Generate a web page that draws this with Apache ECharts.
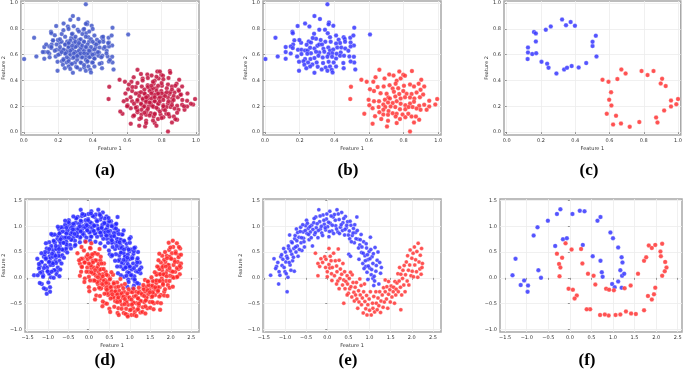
<!DOCTYPE html>
<html>
<head>
<meta charset="utf-8">
<script src="https://cdn.jsdelivr.net/npm/echarts@6/dist/echarts.min.js"></script>
<style>
  html, body { margin: 0; padding: 0; background: #fff; }
  #chart { width: 685px; height: 376px; }
</style>
</head>
<body>
<div id="chart"></div>
<script>
// tick labels
const unitTicks = [0, 0.2, 0.4, 0.6, 0.8, 1.0];
const moonXTicks = [-1.5, -1.0, -0.5, 0, 0.5, 1.0, 1.5, 2.0, 2.5];
const moonYTicks = [-1.0, -0.5, 0, 0.5, 1.0, 1.5];
const captions = ['(a)', '(b)', '(c)', '(d)', '(e)', '(f)'];

// (b) blobs
const bBlue = [[0.36,0.99],[0.285,0.899],[0.317,0.876],[0.231,0.842],[0.256,0.819],[0.188,0.822],[0.158,0.778],[0.16,0.767],[0.06,0.731],[0.369,0.85],[0.367,0.835],[0.394,0.824],[0.313,0.793],[0.346,0.793],[0.283,0.762],[0.362,0.767],[0.375,0.736],[0.41,0.749],[0.454,0.736],[0.46,0.721],[0.425,0.716],[0.492,0.731],[0.515,0.809],[0.51,0.749],[0.606,0.757],[0.513,0.672],[0.494,0.695],[0.494,0.664],[0.462,0.7],[0.433,0.69],[0.41,0.687],[0.379,0.7],[0.348,0.7],[0.321,0.713],[0.294,0.724],[0.275,0.729],[0.252,0.703],[0.265,0.695],[0.24,0.677],[0.208,0.693],[0.198,0.713],[0.169,0.711],[0.162,0.68],[0.148,0.664],[0.119,0.659],[0.119,0.62],[0.148,0.61],[0.16,0.651],[0.19,0.638],[0.21,0.638],[0.231,0.633],[0.246,0.633],[0.26,0.654],[0.285,0.649],[0.302,0.669],[0.313,0.68],[0.329,0.68],[0.337,0.646],[0.365,0.656],[0.375,0.633],[0.394,0.641],[0.417,0.656],[0.44,0.656],[0.463,0.649],[0.481,0.63],[0.437,0.618],[0.413,0.607],[0.388,0.612],[0.367,0.605],[0.342,0.623],[0.313,0.618],[0.294,0.623],[0.265,0.612],[0.244,0.607],[0.21,0.605],[0.185,0.587],[0.119,0.568],[0.073,0.587],[0.002,0.566],[0.231,0.566],[0.262,0.566],[0.285,0.574],[0.308,0.592],[0.333,0.579],[0.36,0.584],[0.387,0.584],[0.41,0.571],[0.433,0.592],[0.456,0.592],[0.487,0.587],[0.513,0.584],[0.515,0.54],[0.494,0.548],[0.452,0.535],[0.396,0.54],[0.367,0.545],[0.335,0.535],[0.298,0.54],[0.273,0.525],[0.248,0.54],[0.221,0.55],[0.196,0.545],[0.227,0.522],[0.26,0.509],[0.304,0.506],[0.35,0.501],[0.375,0.509],[0.41,0.509],[0.454,0.496],[0.521,0.486],[0.196,0.475],[0.238,0.496],[0.285,0.46],[0.327,0.486],[0.36,0.475],[0.385,0.483],[0.39,0.463]];
const bRed = [[0.66,0.483],[0.717,0.447],[0.775,0.47],[0.798,0.444],[0.848,0.473],[0.808,0.437],[0.742,0.439],[0.638,0.426],[0.556,0.406],[0.587,0.39],[0.625,0.39],[0.69,0.416],[0.76,0.398],[0.783,0.416],[0.754,0.375],[0.719,0.364],[0.685,0.354],[0.65,0.349],[0.606,0.333],[0.629,0.318],[0.667,0.302],[0.702,0.297],[0.737,0.339],[0.769,0.341],[0.802,0.359],[0.837,0.37],[0.86,0.354],[0.887,0.375],[0.902,0.406],[0.919,0.354],[0.898,0.328],[0.875,0.307],[0.846,0.295],[0.817,0.297],[0.798,0.318],[0.775,0.295],[0.744,0.313],[0.712,0.269],[0.692,0.251],[0.721,0.261],[0.752,0.276],[0.783,0.261],[0.808,0.271],[0.837,0.269],[0.862,0.261],[0.894,0.271],[0.913,0.292],[0.948,0.243],[0.994,0.256],[0.983,0.214],[0.948,0.199],[0.919,0.212],[0.89,0.204],[0.86,0.235],[0.837,0.222],[0.81,0.209],[0.783,0.22],[0.76,0.24],[0.737,0.225],[0.71,0.23],[0.683,0.214],[0.658,0.24],[0.629,0.24],[0.598,0.251],[0.602,0.209],[0.621,0.186],[0.656,0.194],[0.694,0.194],[0.725,0.199],[0.752,0.194],[0.779,0.178],[0.81,0.178],[0.829,0.194],[0.852,0.194],[0.875,0.183],[0.898,0.173],[0.933,0.173],[0.713,0.163],[0.683,0.173],[0.66,0.155],[0.635,0.124],[0.683,0.137],[0.71,0.134],[0.737,0.147],[0.76,0.142],[0.794,0.137],[0.827,0.142],[0.846,0.121],[0.871,0.121],[0.89,0.096],[0.86,0.075],[0.81,0.116],[0.779,0.101],[0.754,0.121],[0.71,0.088],[0.671,0.101],[0.621,0.065],[0.573,0.142],[0.492,0.256],[0.496,0.351],[0.704,0.044],[0.837,0.005],[0.76,0.07]];

// (a) extra points on top of (b)
const aBlueExtra = [[0.22,0.70],[0.24,0.68],[0.26,0.66],[0.28,0.64],[0.30,0.62],[0.32,0.60],[0.34,0.58],[0.27,0.71],[0.29,0.69],[0.31,0.67],[0.33,0.65],[0.35,0.63],[0.37,0.61],[0.25,0.62],[0.27,0.60],[0.29,0.58],[0.31,0.56],[0.23,0.64],[0.21,0.66],[0.19,0.68],[0.33,0.72],[0.35,0.70],[0.37,0.68],[0.39,0.66],[0.41,0.64],[0.30,0.74],[0.28,0.76],[0.32,0.78],[0.34,0.76],[0.36,0.74],[0.24,0.74],[0.22,0.76],[0.20,0.60],[0.18,0.63],[0.16,0.66],[0.26,0.55],[0.28,0.53],[0.33,0.54],[0.36,0.56],[0.38,0.58],[0.40,0.60],[0.42,0.68],[0.44,0.70],[0.43,0.62],[0.45,0.58],[0.39,0.72],[0.38,0.78],[0.35,0.80],[0.26,0.80],[0.29,0.82],[0.21,0.72],[0.17,0.71],[0.14,0.62],[0.13,0.68],[0.25,0.58],[0.23,0.56],[0.35,0.52],[0.31,0.50],[0.27,0.49],[0.40,0.54],[0.47,0.66],[0.48,0.61],[0.46,0.74],[0.49,0.69],[0.30,0.66],[0.32,0.63],[0.34,0.67],[0.28,0.67],[0.26,0.69],[0.30,0.70],[0.32,0.69],[0.36,0.66],[0.29,0.61],[0.31,0.59],[0.33,0.61],[0.35,0.61],[0.27,0.63],[0.24,0.61],[0.22,0.62],[0.38,0.63],[0.40,0.70],[0.41,0.57],[0.37,0.55],[0.23,0.79],[0.18,0.75],[0.15,0.58],[0.11,0.62],[0.44,0.53],[0.50,0.56],[0.36,0.84],[0.27,0.87],[0.40,0.80]];
const aRedExtra = [[0.70,0.30],[0.72,0.28],[0.74,0.26],[0.76,0.24],[0.78,0.22],[0.80,0.30],[0.82,0.28],[0.73,0.32],[0.75,0.34],[0.77,0.32],[0.79,0.27],[0.71,0.24],[0.69,0.26],[0.67,0.28],[0.65,0.30],[0.68,0.22],[0.70,0.20],[0.72,0.18],[0.74,0.21],[0.76,0.29],[0.78,0.36],[0.80,0.38],[0.83,0.34],[0.85,0.31],[0.87,0.28],[0.84,0.24],[0.86,0.21],[0.81,0.20],[0.79,0.16],[0.76,0.14],[0.73,0.13],[0.70,0.15],[0.66,0.17],[0.64,0.22],[0.62,0.27],[0.63,0.35],[0.66,0.38],[0.69,0.40],[0.72,0.42],[0.75,0.39],[0.77,0.43],[0.81,0.41],[0.84,0.42],[0.88,0.36],[0.90,0.32],[0.92,0.25],[0.93,0.20],[0.89,0.15],[0.84,0.14],[0.80,0.11],[0.75,0.09],[0.68,0.11],[0.64,0.13],[0.60,0.20],[0.59,0.30],[0.61,0.37],[0.74,0.30],[0.76,0.27],[0.78,0.30],[0.72,0.35],[0.70,0.33],[0.68,0.31],[0.73,0.23],[0.75,0.20],[0.77,0.19],[0.79,0.24],[0.81,0.25],[0.83,0.31],[0.71,0.27],[0.74,0.36],[0.66,0.25],[0.65,0.19],[0.87,0.25],[0.86,0.33],[0.91,0.29],[0.95,0.30],[0.97,0.22],[0.82,0.17],[0.77,0.05],[0.71,0.07],[0.67,0.05],[0.58,0.24],[0.56,0.16],[0.85,0.46],[0.79,0.47],[0.68,0.45],[0.88,0.10]];

// (c) rings
const cBlue = [[0.323,0.873],[0.373,0.853],[0.346,0.829],[0.398,0.824],[0.257,0.819],[0.228,0.793],[0.159,0.775],[0.17,0.765],[0.17,0.703],[0.124,0.656],[0.124,0.618],[0.149,0.605],[0.172,0.612],[0.122,0.566],[0.203,0.545],[0.236,0.53],[0.244,0.499],[0.29,0.455],[0.335,0.486],[0.352,0.499],[0.379,0.512],[0.42,0.501],[0.464,0.535],[0.501,0.667],[0.501,0.7],[0.52,0.747],[0.524,0.587]];
const cRed = [[0.559,0.406],[0.594,0.39],[0.609,0.31],[0.598,0.251],[0.611,0.207],[0.584,0.142],[0.638,0.127],[0.621,0.059],[0.667,0.067],[0.718,0.041],[0.774,0.078],[0.669,0.486],[0.646,0.411],[0.694,0.455],[0.787,0.473],[0.822,0.442],[0.857,0.473],[0.907,0.413],[0.899,0.377],[0.928,0.357],[0.959,0.245],[0.959,0.199],[0.99,0.217],[1.0,0.256],[0.919,0.168],[0.872,0.114],[0.88,0.075]];

// (e) moons
const eBlue = [[-1.34,0.05],[-1.26,0.37],[-1.20,0.22],[-1.15,-0.12],[-1.14,0.12],[-1.10,0.41],[-1.07,0.24],[-1.03,0.57],[-1.00,0.12],[-0.98,0.31],[-0.96,0.42],[-0.95,-0.27],[-0.93,0.01],[-0.91,0.57],[-0.89,0.83],[-0.88,0.25],[-0.85,0.70],[-0.84,0.46],[-0.82,0.33],[-0.79,0.57],[-0.78,0.13],[-0.77,0.76],[-0.74,0.50],[-0.73,0.95],[-0.71,0.62],[-0.69,0.42],[-0.67,0.79],[-0.63,0.98],[-0.62,0.68],[-0.60,0.53],[-0.57,0.89],[-0.56,0.77],[-0.54,0.60],[-0.51,1.01],[-0.49,1.12],[-0.48,0.86],[-0.45,0.96],[-0.43,0.74],[-0.40,0.89],[-0.37,1.02],[-0.35,0.62],[-0.32,1.07],[-0.30,0.84],[-0.27,1.18],[-0.26,0.97],[-0.22,0.78],[-0.20,1.32],[-0.18,1.09],[-0.16,0.95],[-0.13,0.87],[-0.10,1.22],[-0.07,1.04],[-0.04,0.93],[-0.02,1.14],[0.01,0.99],[0.04,0.80],[0.06,1.29],[0.07,1.06],[0.11,0.91],[0.14,1.18],[0.17,1.23],[0.20,1.01],[0.23,1.32],[0.25,0.89],[0.28,1.13],[0.31,0.98],[0.34,1.27],[0.37,1.07],[0.41,0.83],[0.43,1.19],[0.45,0.97],[0.48,1.09],[0.52,0.91],[0.53,0.76],[0.56,1.02],[0.59,0.82],[0.62,0.96],[0.64,0.68],[0.67,0.88],[0.70,1.18],[0.73,0.75],[0.75,0.36],[0.77,0.64],[0.80,0.84],[0.81,0.49],[0.84,0.28],[0.86,0.70],[0.89,0.43],[0.91,0.22],[0.93,0.58],[0.94,0.11],[0.96,0.35],[0.99,0.51],[1.00,0.19],[1.02,0.79],[1.04,0.06],[1.06,0.41],[1.08,0.28],[1.10,-0.15],[1.13,0.59],[1.15,0.13],[1.18,0.34],[1.22,-0.12],[1.26,0.09],[0.51,0.46],[0.55,0.42],[0.96,-0.03],[1.08,-0.01],[-1.22,0.18],[-1.17,0.30],[-1.12,0.05],[-1.08,0.45],[-1.05,0.36],[-1.02,0.20],[-0.99,0.50],[-0.97,0.08],[-0.94,0.38],[-0.92,0.62],[-0.90,0.30],[-0.87,0.52],[-0.86,0.15],[-0.83,0.68],[-0.80,0.40],[-0.76,0.82],[-0.75,0.60],[-0.72,0.72],[-0.70,0.88],[-0.66,0.55],[-0.64,0.90],[-0.61,0.78],[-0.58,1.03],[-0.55,0.70],[-0.52,0.92],[-0.47,1.06],[-0.44,0.84],[-0.41,0.99],[-0.38,0.78],[-0.34,0.94],[-0.31,1.15],[-0.28,0.88],[-0.24,1.05],[-0.21,0.92],[-0.17,1.20],[-0.14,1.00],[-0.11,0.82],[-0.08,1.12],[-0.05,0.97],[-0.01,1.24],[0.03,1.08],[0.05,0.90],[0.09,1.20],[0.12,1.02],[0.15,0.86],[0.19,1.12],[0.22,0.95],[0.26,1.24],[0.29,0.86],[0.33,1.03],[0.36,0.92],[0.39,1.15],[0.42,0.94],[0.46,1.02],[0.50,0.83],[0.54,1.10],[0.57,0.70],[0.61,0.87],[0.65,1.03],[0.68,0.76],[0.71,0.92],[0.74,0.58],[0.78,0.74],[0.82,0.60],[0.85,0.48],[0.87,0.18],[0.90,0.33],[0.92,0.66],[0.95,0.45],[0.97,0.23],[1.01,0.37],[1.03,0.55],[1.05,0.16],[1.09,0.47],[1.11,0.03],[1.16,0.24],[1.20,0.50],[1.24,0.30],[1.28,0.20],[1.12,-0.06]];
const eRed = [[-0.28,0.48],[-0.22,0.04],[-0.22,0.28],[-0.18,0.22],[-0.15,0.37],[-0.11,0.30],[-0.06,0.41],[-0.04,0.20],[-0.03,0.36],[0.00,0.12],[0.00,0.02],[0.04,0.57],[0.04,0.26],[0.06,0.19],[0.07,0.42],[0.09,0.33],[0.10,0.08],[0.11,-0.05],[0.12,0.20],[0.15,0.48],[0.17,0.04],[0.19,0.33],[0.22,0.23],[0.23,0.12],[0.25,-0.06],[0.26,0.56],[0.28,0.34],[0.30,-0.01],[0.31,0.17],[0.34,0.07],[0.36,-0.14],[0.37,0.28],[0.39,-0.04],[0.41,0.12],[0.42,-0.21],[0.44,-0.07],[0.47,0.04],[0.48,-0.12],[0.50,-0.30],[0.52,-0.01],[0.53,-0.21],[0.56,-0.17],[0.58,-0.37],[0.59,0.06],[0.61,-0.09],[0.63,-0.28],[0.64,-0.45],[0.66,-0.18],[0.67,-0.33],[0.69,-0.09],[0.70,-0.41],[0.72,-0.59],[0.74,-0.25],[0.75,-0.47],[0.78,-0.33],[0.80,-0.15],[0.81,-0.52],[0.83,-0.39],[0.85,-0.68],[0.86,-0.27],[0.89,-0.46],[0.91,-0.60],[0.93,-0.34],[0.94,-0.72],[0.96,-0.52],[0.99,-0.41],[1.00,-0.63],[1.02,-0.27],[1.04,-0.72],[1.07,-0.49],[1.08,-0.59],[1.10,-0.36],[1.12,-0.66],[1.15,-0.27],[1.16,-0.49],[1.18,-0.62],[1.20,-0.39],[1.22,-0.54],[1.24,-0.27],[1.26,-0.67],[1.27,-0.45],[1.30,-0.33],[1.32,-0.57],[1.33,-0.19],[1.35,-0.47],[1.37,-0.27],[1.40,-0.41],[1.41,-0.17],[1.43,-0.59],[1.45,-0.32],[1.48,-0.23],[1.49,-0.47],[1.51,-0.16],[1.53,-0.37],[1.56,-0.27],[1.57,-0.18],[1.59,-0.49],[1.60,-0.07],[1.62,-0.33],[1.63,-0.22],[1.65,-0.10],[1.67,0.08],[1.68,-0.27],[1.70,-0.06],[1.71,0.20],[1.73,-0.18],[1.74,0.07],[1.76,-0.33],[1.78,-0.01],[1.79,0.15],[1.81,-0.14],[1.82,0.24],[1.84,-0.27],[1.85,0.06],[1.87,0.31],[1.89,-0.06],[1.90,0.43],[1.92,0.15],[1.93,-0.14],[1.95,0.25],[1.96,0.54],[1.98,0.04],[2.00,0.38],[2.01,0.13],[2.03,0.48],[2.04,0.02],[2.06,0.60],[2.07,0.25],[2.09,0.35],[2.11,0.12],[2.12,0.51],[2.14,0.01],[2.15,0.67],[2.17,0.31],[2.19,0.17],[2.20,0.44],[2.22,0.07],[2.23,0.57],[2.25,0.28],[2.24,0.20],[1.74,-0.62],[0.88,-0.12],[0.55,0.11],[0.47,-0.33],[0.39,-0.49],[0.77,-0.02],[1.37,-0.04],[1.45,-0.07],[0.28,-0.21],[0.22,-0.12]];

// (d) extra points on top of (e)
const dBlueExtra = [[0.86,0.02],[1.12,-0.03],[0.98,0.10],[0.78,0.05],[1.20,0.12],[0.84,0.17],[1.10,0.19],[0.95,0.27],[1.18,0.30],[0.77,0.22],[0.80,0.30],[1.06,0.38],[0.88,0.41],[1.10,0.52],[0.72,0.33],[0.74,0.44],[0.97,0.55],[0.80,0.58],[1.00,0.68],[0.66,0.46],[0.64,0.56],[0.86,0.72],[0.70,0.70],[0.82,0.84],[0.58,0.60],[0.56,0.68],[0.73,0.85],[0.56,0.80],[0.66,0.96],[0.47,0.68],[0.44,0.76],[0.56,1.00],[0.40,0.88],[0.50,1.10],[0.35,0.76],[0.30,0.82],[0.38,1.06],[0.24,0.95],[0.30,1.18],[0.20,0.80],[0.15,0.86],[0.20,1.10],[0.08,0.97],[0.10,1.20],[0.06,0.80],[0.01,0.88],[-0.02,1.12],[-0.09,0.98],[-0.11,1.22],[-0.06,0.78],[-0.15,0.85],[-0.20,1.11],[-0.26,0.95],[-0.31,1.16],[-0.21,0.79],[-0.29,0.81],[-0.38,1.05],[-0.41,0.88],[-0.50,1.08],[-0.34,0.72],[-0.43,0.74],[-0.55,0.97],[-0.56,0.79],[-0.68,0.98],[-0.46,0.64],[-0.55,0.65],[-0.72,0.86],[-0.69,0.68],[-0.84,0.84],[-0.56,0.56],[-0.65,0.55],[-0.86,0.72],[-0.80,0.56],[-0.97,0.69],[-0.65,0.44],[-0.74,0.43],[-0.97,0.56],[-0.88,0.41],[-1.07,0.50],[-0.72,0.33],[-0.80,0.29],[-1.05,0.38],[-0.94,0.25],[-1.15,0.31],[-0.76,0.20],[-0.84,0.15],[-1.10,0.19],[-0.97,0.09],[-1.19,0.10],[-0.79,0.07],[-0.86,0.00],[-1.12,0.02],[-0.99,-0.09],[-1.20,-0.10],[-0.95,-0.18],[-1.05,-0.22],[0.97,-0.08],[1.18,-0.10],[0.94,-0.17],[1.08,-0.20],[0.92,0.04],[1.03,0.05],[0.90,0.20],[1.00,0.22],[0.85,0.35],[0.94,0.39],[0.78,0.49],[0.86,0.55],[0.68,0.62],[0.75,0.69],[0.56,0.73],[0.62,0.81],[0.43,0.82],[0.47,0.90],[0.28,0.88],[0.31,0.97],[0.12,0.91],[0.13,1.01],[-0.04,0.92],[-0.05,1.02],[-0.20,0.90],[-0.22,1.00],[-0.35,0.85],[-0.39,0.94],[-0.49,0.78],[-0.55,0.86],[-0.62,0.68],[-0.69,0.75],[-0.73,0.56],[-0.81,0.62],[-0.82,0.43],[-0.90,0.47],[-0.88,0.28],[-0.97,0.31],[-0.91,0.12],[-1.01,0.13],[1.24,0.16],[0.71,0.09],[1.19,0.38],[0.69,0.22],[1.11,0.58],[0.64,0.33],[0.99,0.76],[0.57,0.44],[0.85,0.92],[0.49,0.53],[0.67,1.05],[0.39,0.61],[0.48,1.16],[0.28,0.67],[0.27,1.22],[0.16,0.70],[0.05,1.25],[0.03,0.72],[-0.16,1.24],[-0.09,0.71],[-0.38,1.19],[-0.22,0.69],[-0.58,1.11],[-0.33,0.64],[-0.76,0.99],[-0.44,0.57],[-0.92,0.85],[-0.53,0.49],[-1.05,0.67],[-0.61,0.39],[-1.16,0.48],[-0.67,0.28],[-1.22,0.27],[-0.70,0.16],[-1.25,0.05],[-0.72,0.03],[-1.03,-0.31],[-1.10,-0.20]];
const dRedExtra = [[0.14,0.48],[-0.12,0.53],[0.03,0.40],[0.22,0.46],[-0.19,0.37],[0.16,0.34],[-0.10,0.30],[0.05,0.24],[-0.17,0.21],[0.24,0.27],[0.20,0.19],[-0.06,0.12],[0.12,0.09],[-0.10,-0.01],[0.28,0.16],[0.26,0.06],[0.03,-0.05],[0.20,-0.08],[0.00,-0.18],[0.34,0.03],[0.36,-0.06],[0.14,-0.22],[0.30,-0.20],[0.18,-0.34],[0.42,-0.10],[0.44,-0.18],[0.27,-0.35],[0.44,-0.30],[0.34,-0.46],[0.53,-0.18],[0.56,-0.26],[0.44,-0.50],[0.60,-0.38],[0.50,-0.60],[0.65,-0.26],[0.70,-0.32],[0.62,-0.56],[0.76,-0.45],[0.70,-0.68],[0.80,-0.30],[0.85,-0.36],[0.80,-0.60],[0.92,-0.47],[0.90,-0.70],[0.94,-0.30],[0.99,-0.38],[1.02,-0.62],[1.09,-0.48],[1.11,-0.72],[1.06,-0.28],[1.15,-0.35],[1.20,-0.61],[1.26,-0.45],[1.31,-0.66],[1.21,-0.29],[1.29,-0.31],[1.38,-0.55],[1.41,-0.38],[1.50,-0.58],[1.34,-0.22],[1.43,-0.24],[1.55,-0.47],[1.56,-0.29],[1.68,-0.48],[1.46,-0.14],[1.55,-0.15],[1.72,-0.36],[1.69,-0.18],[1.84,-0.34],[1.56,-0.06],[1.65,-0.05],[1.86,-0.22],[1.80,-0.06],[1.97,-0.19],[1.65,0.06],[1.74,0.07],[1.97,-0.06],[1.88,0.09],[2.07,0.00],[1.72,0.17],[1.80,0.21],[2.05,0.12],[1.94,0.25],[2.15,0.19],[1.76,0.30],[1.84,0.35],[2.10,0.31],[1.97,0.41],[2.19,0.40],[1.79,0.43],[1.86,0.50],[2.12,0.48],[1.99,0.59],[2.20,0.60],[1.95,0.68],[2.05,0.72],[0.03,0.58],[-0.18,0.60],[0.06,0.67],[-0.08,0.70],[0.08,0.46],[-0.03,0.45],[0.10,0.30],[0.00,0.28],[0.15,0.15],[0.06,0.11],[0.22,0.01],[0.14,-0.05],[0.32,-0.12],[0.25,-0.19],[0.44,-0.23],[0.38,-0.31],[0.57,-0.32],[0.53,-0.40],[0.72,-0.38],[0.69,-0.47],[0.88,-0.41],[0.87,-0.51],[1.04,-0.42],[1.05,-0.52],[1.20,-0.40],[1.22,-0.50],[1.35,-0.35],[1.39,-0.44],[1.49,-0.28],[1.55,-0.36],[1.62,-0.18],[1.69,-0.25],[1.73,-0.06],[1.81,-0.12],[1.82,0.07],[1.90,0.03],[1.88,0.22],[1.97,0.19],[1.91,0.38],[2.01,0.37],[-0.24,0.34],[0.29,0.41],[-0.19,0.12],[0.31,0.28],[-0.11,-0.08],[0.36,0.17],[0.01,-0.26],[0.43,0.06],[0.15,-0.42],[0.51,-0.03],[0.33,-0.55],[0.61,-0.11],[0.52,-0.66],[0.72,-0.17],[0.73,-0.72],[0.84,-0.20],[0.95,-0.75],[0.97,-0.22],[1.16,-0.74],[1.09,-0.21],[1.38,-0.69],[1.22,-0.19],[1.58,-0.61],[1.33,-0.14],[1.76,-0.49],[1.44,-0.07],[1.92,-0.35],[1.53,0.01],[2.05,-0.17],[1.61,0.11],[2.16,0.02],[1.67,0.22],[2.22,0.23],[1.70,0.34],[2.25,0.45],[1.72,0.47]];

// (f) moons
const fBlue = [[-1.33,0.05],[-1.26,0.37],[-1.14,-0.14],[-1.06,-0.05],[-0.97,-0.15],[-0.98,-0.27],[-0.84,0.82],[-0.75,0.98],[-0.73,0.15],[-0.67,0.00],[-0.51,1.11],[-0.30,1.24],[-0.22,1.33],[-0.34,0.62],[-0.16,0.75],[-0.07,0.77],[0.06,1.24],[0.23,1.30],[0.34,1.29],[0.30,0.64],[0.64,1.11],[0.71,1.18],[0.53,0.42],[0.71,0.33],[0.74,0.11],[0.76,0.02],[0.94,0.88],[1.00,0.77],[1.12,0.59],[1.20,0.40],[1.22,0.30],[1.17,0.15],[1.21,0.04],[1.26,0.08],[1.12,-0.07],[0.98,-0.12],[1.04,-0.18],[1.20,-0.19]];
const fRed = [[-0.30,0.47],[-0.25,0.27],[-0.22,0.20],[-0.24,0.03],[-0.18,0.39],[-0.10,0.67],[0.04,0.55],[0.26,0.56],[0.29,0.28],[0.42,0.08],[0.55,0.04],[0.59,-0.13],[0.84,-0.21],[0.91,-0.23],[1.02,-0.24],[1.27,-0.20],[1.41,-0.15],[1.58,0.08],[1.72,0.33],[1.77,0.40],[1.83,0.63],[1.90,0.58],[1.98,0.64],[2.14,0.66],[2.10,0.51],[2.11,0.42],[2.21,0.31],[2.24,0.20],[2.20,0.13],[2.14,0.04],[1.98,-0.19],[1.95,-0.32],[1.90,-0.42],[1.81,-0.35],[1.72,-0.63],[1.53,-0.70],[1.42,-0.69],[1.30,-0.65],[1.17,-0.71],[1.06,-0.72],[0.90,-0.73],[0.81,-0.71],[0.70,-0.72],[0.47,-0.61],[0.39,-0.61],[0.16,-0.34],[0.11,-0.40],[0.07,-0.23],[-0.03,-0.21]];

const fmt = v => (v < 0 ? '\u2212' : '') + Math.abs(v).toFixed(1);

const panels = [
    {grid: {left: 19, top: 1, width: 180, height: 134}, x: [-0.017, 1.017], y: [-0.022, 1.016], xt: unitTicks, yt: unitTicks,
        blue: bBlue.concat(aBlueExtra), red: bRed.concat(aRedExtra), colors: ['#4257c9', '#c1123d'], size: 4.5, yGap: 14, xName: true},
    {grid: {left: 263, top: 1, width: 178, height: 134}, x: [-0.012, 1.016], y: [-0.022, 1.016], xt: unitTicks, yt: unitTicks,
        blue: bBlue, red: bRed, colors: ['#3636ff', '#ff3434'], size: 4.5, yGap: 14, xName: true},
    {grid: {left: 504, top: 1, width: 178, height: 134}, x: [-0.016, 1.016], y: [-0.022, 1.016], xt: unitTicks, yt: unitTicks,
        blue: cBlue, red: cRed, colors: ['#3636ff', '#ff3434'], size: 4.5, yGap: 14, xName: true},
    {grid: {left: 19, top: 199, width: 180, height: 133}, x: [-1.56, 2.69], y: [-1.05, 1.53], xt: moonXTicks, yt: moonYTicks,
        blue: eBlue.concat(dBlueExtra), red: eRed.concat(dRedExtra), colors: ['#2424ff', '#ff2626'], size: 4.5, yGap: 16, xName: true},
    {grid: {left: 263, top: 199, width: 178, height: 133}, x: [-1.52, 2.69], y: [-1.05, 1.53], xt: moonXTicks, yt: moonYTicks,
        blue: eBlue, red: eRed, colors: ['#3636ff', '#ff3434'], size: 4, yGap: 20, xName: true},
    {grid: {left: 500, top: 199, width: 182, height: 133}, x: [-1.62, 2.6], y: [-1.05, 1.53], xt: moonXTicks, yt: moonYTicks,
        blue: fBlue, red: fRed, colors: ['#3636ff', '#ff3434'], size: 4.5, yGap: 0, xName: false}
];

const labelStyle = {fontFamily: 'DejaVu Sans', fontSize: 5, color: '#333'};

const grids = [], xAxes = [], yAxes = [], series = [], texts = [];
panels.forEach((p, i) => {
    grids.push(Object.assign({show: true, borderColor: '#a8a8a8', borderWidth: 1.5, backgroundColor: '#fff'}, p.grid));
    xAxes.push({
        type: 'value', gridIndex: i, min: p.x[0], max: p.x[1],
        name: p.xName ? 'Feature 1' : '', nameLocation: 'middle', nameGap: 11,
        nameTextStyle: labelStyle,
        axisLine: {show: false},
        axisTick: {show: true, length: 2, lineStyle: {color: '#555', width: 0.6}, customValues: p.xt},
        axisLabel: Object.assign({margin: 3, customValues: p.xt, formatter: fmt}, labelStyle),
        splitLine: {show: true, lineStyle: {color: '#ececec', width: 0.8}, customValues: p.xt}
    });
    yAxes.push({
        type: 'value', gridIndex: i, min: p.y[0], max: p.y[1],
        name: p.yGap ? 'Feature 2' : '', nameLocation: 'middle', nameGap: p.yGap, nameRotate: 90,
        nameTextStyle: labelStyle,
        axisLine: {show: false},
        axisTick: {show: true, length: 2, lineStyle: {color: '#555', width: 0.6}, customValues: p.yt},
        axisLabel: Object.assign({margin: 3, customValues: p.yt, formatter: fmt}, labelStyle),
        splitLine: {show: true, lineStyle: {color: '#ececec', width: 0.8}, customValues: p.yt}
    });
    [p.blue, p.red].forEach((d, k) => {
        series.push({
            type: 'scatter', xAxisIndex: i, yAxisIndex: i, data: d, symbolSize: p.size,
            itemStyle: {color: p.colors[k], opacity: 0.85, borderColor: '#fff', borderWidth: 0.3}
        });
    });
    texts.push({
        type: 'text', x: p.grid.left + p.grid.width / 2 - 4, y: i < 3 ? 171 : 361,
        style: {
            text: captions[i], fontFamily: 'Liberation Serif', fontWeight: 'bold', fontSize: 17,
            fill: '#000', align: 'center', verticalAlign: 'middle'
        }
    });
});

const myChart = echarts.init(document.getElementById('chart'), null, {renderer: 'canvas'});
myChart.setOption({
    animation: false,
    backgroundColor: '#fff',
    grid: grids,
    xAxis: xAxes,
    yAxis: yAxes,
    series: series,
    graphic: texts
});
</script>
</body>
</html>
